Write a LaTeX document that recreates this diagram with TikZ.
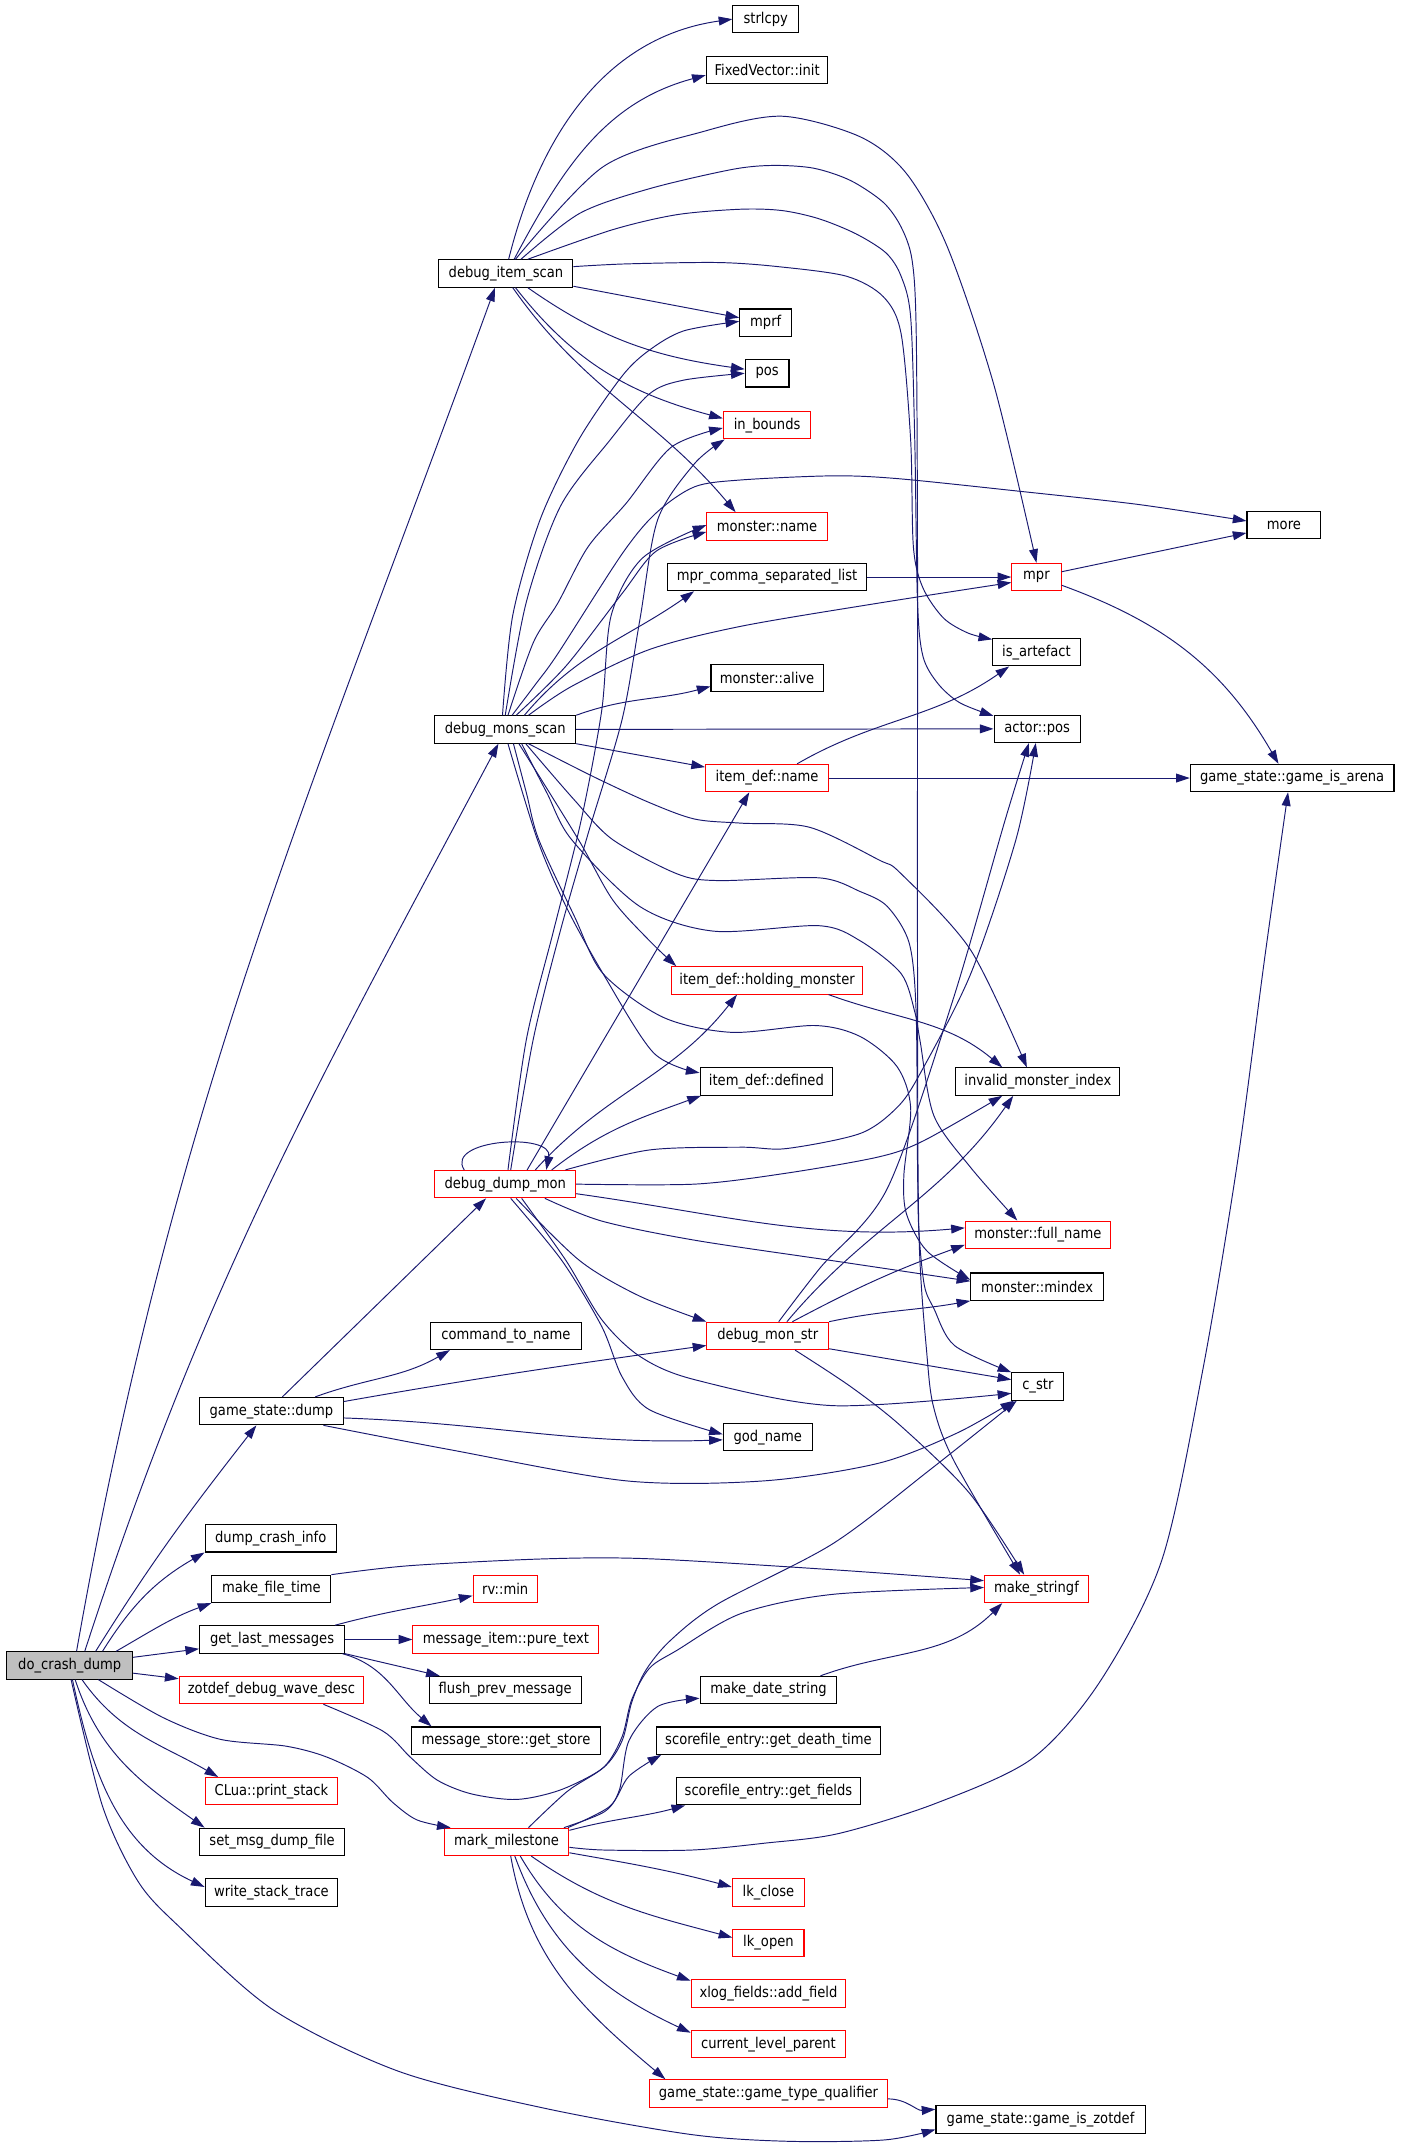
\documentclass[tikz,border=0pt]{standalone}
\usepackage{fontspec}
\setmainfont{DejaVu Sans}[FakeStretch=0.88]
\usepackage{tikz}
\usetikzlibrary{arrows.meta}
\definecolor{edgeblue}{HTML}{191970}
\definecolor{rootgray}{HTML}{BFBFBF}
\tikzstyle{fn} = [rectangle, draw=black, line width=0.8pt, inner sep=0pt, minimum height=20pt, text centered, font=\fontsize{10.9}{12}\selectfont]
\tikzstyle{fnred} = [fn, draw=red]
\tikzstyle{call} = [draw=edgeblue, line width=0.7pt, -{Triangle[length=10pt,width=6.5pt]}]

\begin{document}
\begin{tikzpicture}[x=1pt,y=1pt]
\fill[white] (0,0) rectangle (1024,-1568);
\useasboundingbox (0,0) rectangle (1024,-1568);

% functions
\node (dcd) [fn, fill=rootgray, minimum width=92pt] at (51,-1218) {do\_crash\_dump};
\node (dis) [fn, minimum width=98pt] at (370,-200) {debug\_item\_scan};
\node (strlcpy) [fn, minimum width=48pt] at (560,-14) {strlcpy};
\node (fvinit) [fn, minimum width=89pt] at (561,-51) {FixedVector::init};
\node (mprf) [fn, minimum width=38pt] at (560,-236) {mprf};
\node (pos) [fn, minimum width=32pt] at (561,-273) {pos};
\node (inbounds) [fnred, minimum width=64pt] at (561,-311) {in\_bounds};
\node (mname) [fnred, minimum width=88pt] at (561,-385) {monster::name};
\node (more) [fn, minimum width=54pt] at (939,-384) {more};
\node (mprcsl) [fn, minimum width=146pt] at (561,-422) {mpr\_comma\_separated\_list};
\node (mpr) [fnred, minimum width=36pt] at (758,-422) {mpr};
\node (isart) [fn, minimum width=64pt] at (758,-477) {is\_artefact};
\node (malive) [fn, minimum width=82pt] at (561,-496) {monster::alive};
\node (dms) [fn, minimum width=103pt] at (369.5,-533.5) {debug\_mons\_scan};
\node (apos) [fn, minimum width=63pt] at (758.5,-533) {actor::pos};
\node (idname) [fnred, minimum width=90pt] at (561,-569) {item\_def::name};
\node (arena) [fn, minimum width=149pt] at (945,-569) {game\_state::game\_is\_arena};
\node (hold) [fnred, minimum width=140pt] at (561,-717) {item\_def::holding\_monster};
\node (defined) [fn, minimum width=97pt] at (560.5,-791) {item\_def::defined};
\node (invalid) [fn, minimum width=120pt] at (759,-791) {invalid\_monster\_index};
\node (ddm) [fnred, minimum width=103pt] at (369.5,-866) {debug\_dump\_mon};
\node (fullname) [fnred, minimum width=106pt] at (759,-903) {monster::full\_name};
\node (mindex) [fn, minimum width=97pt] at (758.5,-941) {monster::mindex};
\node (cmdname) [fn, minimum width=110pt] at (370,-977) {command\_to\_name};
\node (dmstr) [fnred, minimum width=89pt] at (561.5,-977) {debug\_mon\_str};
\node (cstr) [fn, minimum width=38pt] at (759,-1014) {c\_str};
\node (gsd) [fn, minimum width=105pt] at (198.5,-1032) {game\_state::dump};
\node (godname) [fn, minimum width=65pt] at (561.5,-1051) {god\_name};
\node (dci) [fn, minimum width=96pt] at (198,-1125) {dump\_crash\_info};
\node (mft) [fn, minimum width=87pt] at (198.5,-1162) {make\_file\_time};
\node (rvmin) [fnred, minimum width=47pt] at (369.5,-1162) {rv::min};
\node (mstringf) [fnred, minimum width=76pt] at (758,-1162) {make\_stringf};
\node (glm) [fn, minimum width=106pt] at (199,-1199) {get\_last\_messages};
\node (puretext) [fnred, minimum width=136pt] at (370,-1199) {message\_item::pure\_text};
\node (zotwave) [fnred, minimum width=135pt] at (198.5,-1236) {zotdef\_debug\_wave\_desc};
\node (flush) [fn, minimum width=111pt] at (369.5,-1236) {flush\_prev\_message};
\node (mds) [fn, minimum width=100pt] at (562,-1236) {make\_date\_string};
\node (getstore) [fn, minimum width=138pt] at (370,-1273) {message\_store::get\_store};
\node (deathtime) [fn, minimum width=164pt] at (562,-1273) {scorefile\_entry::get\_death\_time};
\node (clua) [fnred, minimum width=97pt] at (198.5,-1310) {CLua::print\_stack};
\node (getfields) [fn, minimum width=135pt] at (562,-1310) {scorefile\_entry::get\_fields};
\node (smdf) [fn, minimum width=106pt] at (199,-1347) {set\_msg\_dump\_file};
\node (milestone) [fnred, minimum width=91pt] at (370.5,-1347) {mark\_milestone};
\node (wst) [fn, minimum width=97pt] at (198.5,-1384) {write\_stack\_trace};
\node (lkclose) [fnred, minimum width=53pt] at (562,-1384) {lk\_close};
\node (lkopen) [fnred, minimum width=52pt] at (562,-1421) {lk\_open};
\node (addfield) [fnred, minimum width=113pt] at (562,-1458) {xlog\_fields::add\_field};
\node (clp) [fnred, minimum width=113pt] at (562,-1495) {current\_level\_parent};
\node (gtq) [fnred, minimum width=174pt] at (562,-1531) {game\_state::game\_type\_qualifier};
\node (zotdef) [fn, minimum width=153pt] at (761,-1550) {game\_state::game\_is\_zotdef};

% do_crash_dump
\draw[call] ([xshift=5pt]dcd.north) to[out=80,in=-110] ([xshift=-8pt]dis.south);
\draw[call] ([xshift=11pt]dcd.north) to[out=72,in=-118] ([xshift=-5pt]dms.south);
\draw[call] ([xshift=19pt]dcd.north) to[out=58,in=-128] ([xshift=-11pt]gsd.south);
\draw[call] ([xshift=24pt]dcd.north) to[out=58,in=-150] (dci.south west);
\draw[call] ([xshift=34pt]dcd.north) to[out=30,in=-160] (mft.south west);
\draw[call] (dcd) -- (glm);
\draw[call] (dcd) -- (zotwave);
\draw[call] ([xshift=9pt]dcd.south) to[out=-55,in=150] ([xshift=10pt]clua.north west);
\draw[call] ([xshift=4pt]dcd.south) to[out=-72,in=145] ([xshift=4pt]smdf.north west);
\draw[call] ([xshift=2pt]dcd.south) to[out=-78,in=155] ([yshift=4pt]wst.west);
\draw[call] plot[smooth] coordinates {([xshift=21pt]dcd.south) (119,-1256) (161,-1272) (209,-1277) (239,-1285) (269,-1300) (287,-1318) (305,-1331) ([xshift=5pt]milestone.north west)};
\draw[call] plot[smooth] coordinates {([xshift=1pt]dcd.south) (75,-1321) (101,-1376) (131,-1409) (200,-1470) (292,-1515) (399,-1542) (505,-1561) (576,-1566) (647,-1565) ([yshift=3pt]zotdef.south west)};

% debug_item_scan
\draw[call] ([xshift=2pt]dis.north) to[out=76,in=188] (strlcpy.west);
\draw[call] ([xshift=6pt]dis.north) to[out=62,in=195] ([yshift=-4pt]fvinit.west);
\draw[call] plot[smooth] coordinates {([xshift=7pt]dis.north) (441,-122) (515,-96) (572,-85) (629,-100) (663,-127) (693,-181) (727,-282) (mpr.north)};
\draw[call] (dis) -- (mprf);
\draw[call] ([xshift=16pt]dis.south) to[out=-35,in=172] ([yshift=3pt]pos.west);
\draw[call] ([xshift=7pt]dis.south) to[out=-52,in=165] ([yshift=5pt]inbounds.west);
\draw[call] ([xshift=5pt]dis.south) to[out=-55,in=130] ([xshift=-23pt]mname.north);
\draw[call] plot[smooth] coordinates {([xshift=11pt]dis.north) (424,-156) (475,-138) (535,-124) (565,-121) (595,-123) (622,-132) (646,-148) (659,-166) (667,-190) (670,-240) (671,-400) (671,-700) (672,-900) (678,-992) (683,-1030) (698,-1069) ([xshift=-12pt]mstringf.north)};
\draw[call] plot[smooth] coordinates {([xshift=16pt]dis.north) (448,-168) (495,-157) (542,-153) (572,-154) (599,-160) (626,-171) (648,-185) (659,-202) (666,-232) (669,-322) (671,-440) (675,-480) (686,-500) (702,-514) ([yshift=-1pt]apos.north west)};
\draw[call] plot[smooth] coordinates {([yshift=5pt]dis.east) (458,-193) (525,-192) (569,-195) (619,-202) (646,-217) (659,-244) (666,-322) (668,-400) (675,-430) (690,-452) (708,-463) ([yshift=-1pt]isart.north west)};

% debug_mons_scan
\draw[call] plot[smooth] coordinates {([xshift=-2pt]dms.north) (375,-450) (395,-380) (423,-322) (455,-275) (475,-256) (500,-242) ([yshift=1pt]mprf.west)};
\draw[call] plot[smooth] coordinates {(dms.north) (385,-440) (410,-370) (446,-322) (475,-288) (500,-278) (pos.west)};
\draw[call] plot[smooth] coordinates {([xshift=2pt]dms.north) (390,-470) (408,-441) (430,-400) (458,-368) (491,-327) ([yshift=-2pt]inbounds.west)};
\draw[call] plot[smooth] coordinates {([xshift=8pt]dms.north) (414,-487) (455,-434) (480,-403) ([yshift=-4pt]mname.west)};
\draw[call] plot[smooth] coordinates {([xshift=5pt]dms.north) (392,-500) (408,-478) (455,-405) (480,-375) (508,-356) (542,-351) (609,-348) (656,-350) (743,-359) (833,-369) ([yshift=3pt]more.west)};
\draw[call] ([xshift=14pt]dms.north) to[out=50,in=-145] ([xshift=20pt]mprcsl.south west);
\draw[call] plot[smooth] coordinates {([xshift=17pt]dms.north) (418,-502) (475,-475) (542,-458) (643,-441) ([yshift=-4pt]mpr.west)};
\draw[call] (dms.north east) to[out=20,in=195] ([yshift=-6pt]malive.west);
\draw[call] (dms) -- (apos);
\draw[call] (dms.south east) -- ([yshift=8pt]idname.west);
\draw[call] plot[smooth] coordinates {([xshift=17pt]dms.south) (434,-568) (475,-587) (508,-599) (542,-602) (592,-605) (643,-629) (659,-639) (710,-695) ([xshift=-8pt]invalid.north)};
\draw[call] plot[smooth] coordinates {([xshift=10pt]dms.south) (423,-614) (448,-658) (475,-688) ([xshift=4pt]hold.north west)};
\draw[call] plot[smooth] coordinates {([xshift=2pt]dms.south) (393,-614) (414,-663) (441,-712) (478,-770) ([yshift=-4pt]defined.north west)};
\draw[call] plot[smooth] coordinates {([xshift=15pt]dms.south) (420,-585) (448,-614) (495,-639) (525,-644) (599,-642) (629,-652) (649,-663) (665,-690) (670,-740) (671,-850) (672,-900) (676,-940) (683,-957) (698,-984) (cstr.north west)};
\draw[call] plot[smooth] coordinates {([xshift=12pt]dms.south) (400,-580) (418,-614) (468,-663) (522,-681) (599,-677) (629,-688) (659,-712) (669,-740) (673,-762) (683,-816) (710,-854) ([xshift=-15pt]fullname.north)};
\draw[call] plot[smooth] coordinates {([xshift=6pt]dms.south) (385,-580) (394,-614) (420,-670) (441,-712) (485,-744) (535,-755) (596,-750) (629,-758) (656,-780) (666,-810) (661,-860) (663,-888) (678,-915) ([yshift=5pt]mindex.west)};

% debug_dump_mon
\draw[call] ([xshift=-30pt]ddm.north) .. controls (325,-833) and (405,-828) .. ([xshift=30pt]ddm.north);
\draw[call] plot[smooth] coordinates {([xshift=4pt]ddm.north) (390,-760) (410,-680) (430,-610) (455,-526) (468,-453) (481,-380) (508,-339) ([xshift=-31pt]inbounds.south)};
\draw[call] plot[smooth] coordinates {([xshift=2pt]ddm.north) (385,-760) (405,-680) (425,-600) (440,-520) (447,-450) (470,-408) ([yshift=1pt]mname.west)};
\draw[call] ([xshift=16pt]ddm.north) -- ([xshift=-13pt]idname.south);
\draw[call] ([xshift=22pt]ddm.north) to[out=48,in=-128] ([xshift=-22pt]hold.south);
\draw[call] ([xshift=34pt]ddm.north) to[out=38,in=-160] ([xshift=1pt]defined.south west);
\draw[call] plot[smooth] coordinates {([xshift=44pt]ddm.north) (475,-841) (542,-839) (575,-840) (629,-829) (656,-810) (673,-785) (710,-712) (743,-614) ([xshift=-1pt]apos.south)};
\draw[call] plot[smooth] coordinates {(ddm.east) (508,-866) (575,-858) (643,-846) (676,-834) ([xshift=-26pt]invalid.south)};
\draw[call] ([yshift=-7pt]ddm.east) to[out=-8,in=185] ([yshift=5pt]fullname.west);
\draw[call] plot[smooth] coordinates {([xshift=29pt]ddm.south) (440,-893) (508,-907) (609,-922) ([yshift=4pt]mindex.west)};
\draw[call] plot[smooth] coordinates {([xshift=8pt]ddm.south) (424,-922) (468,-948) (dmstr.north west)};
\draw[call] plot[smooth] coordinates {([xshift=12pt]ddm.south) (414,-922) (440,-965) (468,-992) (508,-1009) (609,-1028) ([yshift=-5pt]cstr.west)};
\draw[call] plot[smooth] coordinates {([xshift=4pt]ddm.south) (411,-922) (440,-970) (455,-1007) (475,-1031) ([yshift=2pt]godname.west)};

% debug_mon_str
\draw[call] plot[smooth] coordinates {([xshift=8pt]dmstr.north) (600,-927) (649,-869) (697,-731) (735,-600) ([xshift=-6pt]apos.south)};
\draw[call] ([xshift=14pt]dmstr.north) to[out=50,in=-125] ([xshift=-18pt]invalid.south);
\draw[call] ([xshift=18pt]dmstr.north) to[out=28,in=200] ([yshift=3pt]fullname.south west);
\draw[call] (dmstr.north east) to[out=12,in=190] (mindex.south west);
\draw[call] ([yshift=1pt]dmstr.south east) -- ([yshift=5pt]cstr.west);
\draw[call] plot[smooth] coordinates {([xshift=20pt]dmstr.south) (622,-1014) (659,-1043) (709,-1092) ([xshift=-9pt]mstringf.north)};

% game_state::dump
\draw[call] ([xshift=8pt]gsd.north) -- ([xshift=-14pt]ddm.south);
\draw[call] ([xshift=32pt]gsd.north) to[out=20,in=-150] ([xshift=-41pt]cmdname.south);
\draw[call] ([yshift=7pt]gsd.east) to[out=10,in=188] ([yshift=-7pt]dmstr.west);
\draw[call] ([yshift=-5pt]gsd.east) to[out=-2,in=182] ([yshift=-2pt]godname.west);
\draw[call] plot[smooth] coordinates {([xshift=38pt]gsd.south) (328,-1060) (458,-1083) (559,-1083) (643,-1070) (700,-1048) ([xshift=2pt]cstr.south west)};

% get_last_messages and the rest
\draw[call] ([xshift=46pt]glm.north) to[out=15,in=192] ([yshift=-5pt]rvmin.west);
\draw[call] (glm) -- (puretext);
\draw[call] (glm.south east) -- ([xshift=8pt]flush.north west);
\draw[call] ([xshift=-2pt]glm.south east) to[out=-15,in=140] ([xshift=15pt]getstore.north west);
\draw[call] plot[smooth] coordinates {(mft.north east) (300,-1145) (400,-1140) (475,-1140) (609,-1148) ([yshift=6pt]mstringf.west)};
\draw[call] ([xshift=38pt]mds.north) to[out=20,in=-135] ([xshift=-25pt]mstringf.south);
\draw[call] plot[smooth] coordinates {([xshift=38pt]zotwave.south) (280,-1266) (300,-1285) (320,-1302) (345,-1312) (378,-1316) (410,-1309) (441,-1293) (455,-1273) (462,-1245) (472,-1222) (490,-1200) (525,-1173) (609,-1129) (680,-1075) ([xshift=4pt]cstr.south west)};

% mark_milestone
\draw[call] plot[smooth] coordinates {([xshift=16pt]milestone.north) (415,-1310) (442,-1292) (455,-1270) (462,-1243) (475,-1220) (495,-1207) (542,-1180) (609,-1166) ([yshift=1pt]mstringf.west)};
\draw[call] plot[smooth] coordinates {([xshift=-4pt]milestone.north east) (442,-1325) (453,-1309) (460,-1273) (481,-1248) ([yshift=-6pt]mds.west)};
\draw[call] plot[smooth] coordinates {([xshift=-1pt]milestone.north east) (446,-1321) (460,-1299) ([xshift=4pt]deathtime.south west)};
\draw[call] ([yshift=-2pt]milestone.north east) to[out=15,in=195] ([xshift=7pt]getfields.south west);
\draw[call] plot[smooth] coordinates {([yshift=-4pt]milestone.east) (442,-1353) (506,-1353) (559,-1348) (613,-1341) (684,-1319) (755,-1286) (805,-1229) (850,-1140) (880,-1000) (905,-850) (925,-700) ([xshift=-3pt]arena.south)};
\draw[call] ([yshift=-8pt]milestone.east) to[out=-10,in=165] ([yshift=4pt]lkclose.west);
\draw[call] ([xshift=18pt]milestone.south) to[out=-35,in=165] ([yshift=4pt]lkopen.west);
\draw[call] ([xshift=10pt]milestone.south) to[out=-60,in=160] ([yshift=-1pt]addfield.north west);
\draw[call] ([xshift=6pt]milestone.south) to[out=-70,in=155] ([yshift=-2pt]clp.north west);
\draw[call] ([xshift=3pt]milestone.south) to[out=-80,in=140] ([xshift=12pt]gtq.north west);
\draw[call] ([yshift=-4pt]gtq.east) to[out=0,in=185] ([yshift=-3pt]zotdef.north west);

% mpr and item_def
\draw[call] (mprcsl) -- (mpr);
\draw[call] (mpr) -- (more);
\draw[call] ([yshift=-6pt]mpr.east) to[out=-20,in=120] ([xshift=-10pt]arena.north);
\draw[call] ([xshift=22pt]idname.north) to[out=30,in=-145] ([xshift=-20pt]isart.south);
\draw[call] (idname) -- (arena);
\draw[call] ([xshift=45pt]hold.south) to[out=-20,in=140] ([xshift=-26pt]invalid.north);
\end{tikzpicture}
\end{document}
